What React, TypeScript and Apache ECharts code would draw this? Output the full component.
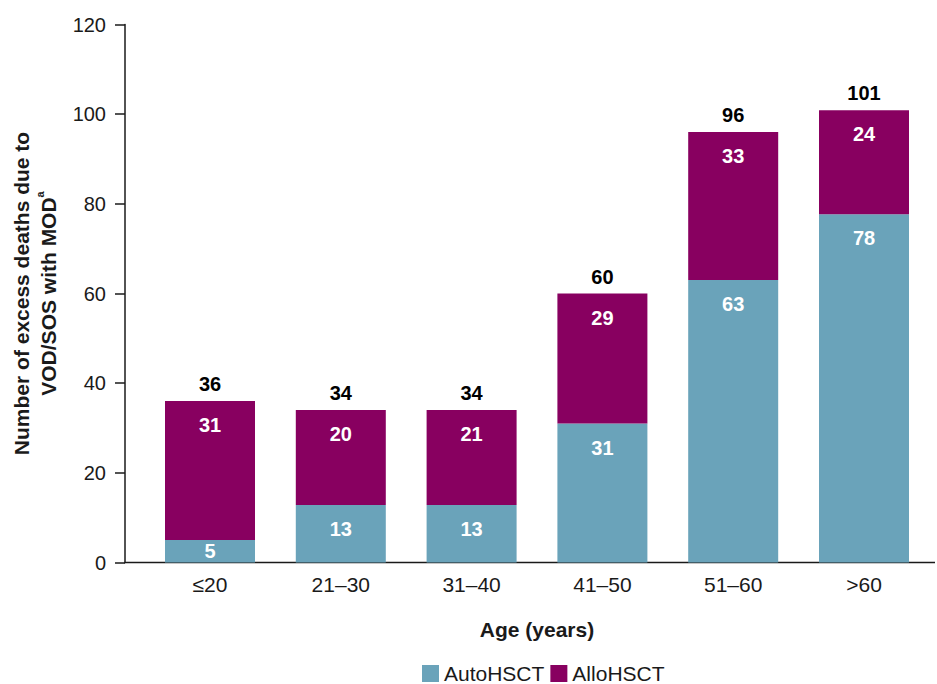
import React, { useEffect, useRef } from "react";
import * as echarts from "echarts";

const categories = ["≤20", "21–30", "31–40", "41–50", "51–60", ">60"];
// bar heights (the printed labels are rounded)
const autoValues = [5, 12.8, 12.8, 31, 63, 77.7];
const alloValues = [31, 21.2, 21.2, 29, 33, 23.2];
const autoLabels = ["5", "13", "13", "31", "63", "78"];
const alloLabels = ["31", "20", "21", "29", "33", "24"];
const totalLabels = ["36", "34", "34", "60", "96", "101"];
const yTicks = { min: 0, max: 120, interval: 20 };

const FONT = "'Liberation Sans', Arial, Helvetica, sans-serif";
const AUTO_COLOR = "#6aa3ba";
const ALLO_COLOR = "#880060";

export default function App() {
  const ref = useRef<HTMLDivElement>(null);

  useEffect(() => {
    if (!ref.current) return;
    const chart = echarts.init(ref.current, undefined, { renderer: "svg" });
    const insideLabel = (labels: string[]) => ({
      show: true,
      position: "insideTop" as const,
      distance: 14,
      color: "#ffffff",
      fontWeight: "bold" as const,
      fontSize: 20,
      fontFamily: FONT,
      formatter: (p: any) => labels[p.dataIndex],
    });
    chart.setOption({
      animation: false,
      textStyle: { fontFamily: FONT },
      grid: {
        left: 144.6,
        right: 7.6,
        top: 24.5,
        bottom: 121.5,
        containLabel: false,
        outerBoundsMode: "none",
      },
      legend: {
        data: ["AutoHSCT", "AlloHSCT"],
        left: 422,
        top: 663,
        padding: 0,
        itemWidth: 17,
        itemHeight: 17,
        itemGap: 6,
        icon: "rect",
        textStyle: { fontSize: 21, color: "#1a1a1a", fontFamily: FONT },
      },
      xAxis: {
        type: "category",
        data: categories,
        axisLine: { show: false },
        axisTick: { show: false },
        axisLabel: { fontSize: 21, color: "#1a1a1a", margin: 11, fontFamily: FONT },
        name: "Age (years)",
        nameLocation: "middle",
        nameGap: 56,
        nameTextStyle: { fontSize: 21, fontWeight: "bold", color: "#1a1a1a", fontFamily: FONT },
      },
      yAxis: {
        type: "value",
        min: yTicks.min,
        max: yTicks.max,
        interval: yTicks.interval,
        offset: 19.6,
        axisLine: { show: true, lineStyle: { color: "#1a1a1a", width: 1.5 } },
        axisTick: { show: true, length: 10, lineStyle: { color: "#1a1a1a", width: 1.5 } },
        splitLine: { show: false },
        axisLabel: { fontSize: 20, color: "#1a1a1a", margin: 19, fontFamily: FONT },
        name: "{t|Number of excess deaths due to}\n{t|VOD/SOS with MOD}{s|a}",
        nameLocation: "middle",
        nameGap: 60,
        nameRotate: 90,
        nameTextStyle: {
          color: "#1a1a1a",
          fontFamily: FONT,
          lineHeight: 27,
          rich: {
            t: { fontSize: 21, fontWeight: "bold", color: "#1a1a1a", fontFamily: FONT, lineHeight: 27 },
            s: { fontSize: 11, fontWeight: "bold", color: "#1a1a1a", fontFamily: FONT, verticalAlign: "top", lineHeight: 27 },
          },
        },
      },
      series: [
        {
          name: "AutoHSCT",
          type: "bar",
          stack: "total",
          barWidth: 90,
          itemStyle: { color: AUTO_COLOR },
          label: insideLabel(autoLabels),
          data: autoValues.map((v) =>
            v < 8 ? { value: v, label: { position: "inside" } } : v
          ),
        },
        {
          name: "AlloHSCT",
          type: "bar",
          stack: "total",
          barWidth: 90,
          itemStyle: { color: ALLO_COLOR },
          label: insideLabel(alloLabels),
          data: alloValues,
        },
        {
          name: "Total",
          type: "bar",
          stack: "total",
          barWidth: 90,
          silent: true,
          itemStyle: { color: "rgba(0,0,0,0)" },
          label: {
            show: true,
            position: "top",
            distance: 7,
            color: "#000000",
            fontWeight: "bold",
            fontSize: 20,
            fontFamily: FONT,
            formatter: (p: any) => totalLabels[p.dataIndex],
          },
          data: categories.map(() => 0),
        },
      ],
      graphic: [
        {
          type: "line",
          shape: { x1: 124.3, y1: 562.5, x2: 935, y2: 562.5 },
          style: { stroke: "#1a1a1a", lineWidth: 1.5 },
          silent: true,
        },
      ],
    });
    return () => chart.dispose();
  }, []);

  return <div ref={ref} style={{ width: 937, height: 684, position: "absolute", left: 0, top: 0 }} />;
}
